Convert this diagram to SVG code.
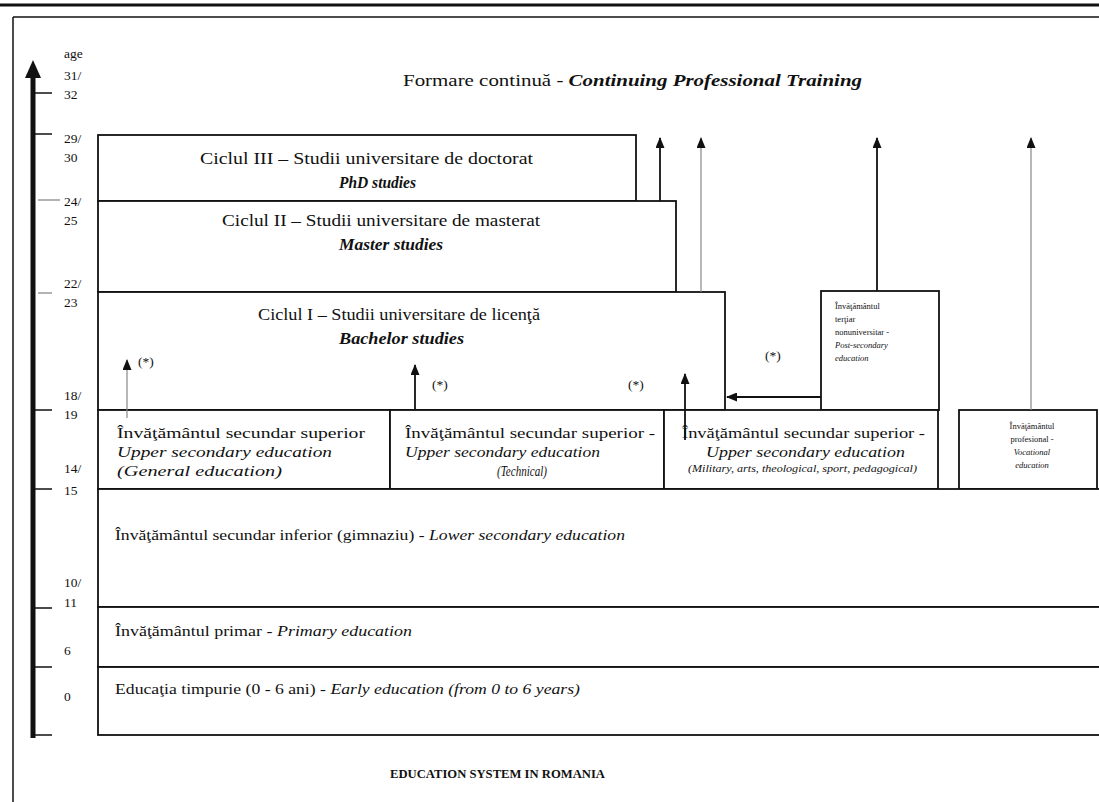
<svg xmlns="http://www.w3.org/2000/svg" width="1099" height="802" viewBox="0 0 1099 802">
<style>
text{font-family:"Liberation Serif","Times New Roman",serif;fill:#111}
.box{fill:#fff;stroke:#111;stroke-width:1.8}
.t15{font-size:16px}
.t13{font-size:14px}
.lab{font-size:13.5px}
.it{font-style:italic}
.bi{font-style:italic;font-weight:bold}
.tiny{font-size:8.5px}
.tick{stroke:#111;stroke-width:1.5}
.gtick{stroke:#999;stroke-width:1.5}
.ar{stroke:#111;stroke-width:1.8;fill:none}
.gar{stroke:#888;stroke-width:1.2;fill:none}
</style>
<defs>
<marker id="ah" markerWidth="11" markerHeight="9" refX="10" refY="4.5" orient="auto" markerUnits="userSpaceOnUse" viewBox="0 0 11 9"><path d="M0,0 L11,4.5 L0,9 Z" fill="#111"/></marker>
<marker id="big" markerWidth="18" markerHeight="16" refX="0" refY="8" orient="auto" markerUnits="userSpaceOnUse" viewBox="0 0 18 16"><path d="M0,0 L18,8 L0,16 Z" fill="#111"/></marker>
</defs>
<rect width="1099" height="802" fill="#fff"/>
<g id="frame">
<line x1="0" y1="5" x2="1099" y2="5" stroke="#111" stroke-width="3"/>
<line x1="13" y1="17" x2="1099" y2="17" stroke="#111" stroke-width="1.5"/>
<line x1="13" y1="17" x2="13" y2="802" stroke="#111" stroke-width="1.5"/>
</g>
<g id="axis">
<line x1="33" y1="738" x2="33" y2="78" stroke="#111" stroke-width="5" marker-end="url(#big)"/>
<line class="tick" x1="33" y1="93" x2="52" y2="93"/>
<line class="tick" x1="33" y1="134" x2="52" y2="134"/>
<line class="gtick" x1="38" y1="200" x2="60" y2="200"/>
<line class="gtick" x1="38" y1="293" x2="52" y2="293"/>
<line class="tick" x1="33" y1="410" x2="52" y2="410"/>
<line class="tick" x1="33" y1="489" x2="52" y2="489"/>
<line class="tick" x1="33" y1="608" x2="52" y2="608"/>
<line class="tick" x1="33" y1="667" x2="52" y2="667"/>
<line class="tick" x1="33" y1="735" x2="52" y2="735"/>
<text class="lab" x="64" y="58">age</text>
<text class="lab" x="64" y="80">31/</text>
<text class="lab" x="64" y="99">32</text>
<text class="lab" x="64" y="143">29/</text>
<text class="lab" x="64" y="162">30</text>
<text class="lab" x="64" y="206">24/</text>
<text class="lab" x="64" y="225">25</text>
<text class="lab" x="64" y="288">22/</text>
<text class="lab" x="64" y="307">23</text>
<text class="lab" x="64" y="400">18/</text>
<text class="lab" x="64" y="419">19</text>
<text class="lab" x="64" y="473">14/</text>
<text class="lab" x="64" y="495">15</text>
<text class="lab" x="64" y="587">10/</text>
<text class="lab" x="64" y="607">11</text>
<text class="lab" x="64" y="655">6</text>
<text class="lab" x="64" y="701">0</text>
</g>
<g id="continuing">
<text class="t15" x="403" y="86" textLength="459" lengthAdjust="spacingAndGlyphs">Formare continuă  - <tspan class="bi">Continuing Professional Training</tspan></text>
</g>
<g id="phd">
<rect class="box" x="98" y="135" width="538" height="66"/>
<text class="t15" x="200" y="164" textLength="333" lengthAdjust="spacingAndGlyphs">Ciclul III – Studii universitare de doctorat</text>
<text class="t15 bi" x="339" y="188" textLength="77" lengthAdjust="spacingAndGlyphs">PhD studies</text>
</g>
<g id="master">
<rect class="box" x="98" y="201" width="578" height="91"/>
<text class="t15" x="222" y="226" textLength="318" lengthAdjust="spacingAndGlyphs">Ciclul II – Studii universitare de masterat</text>
<text class="t15 bi" x="339" y="250" textLength="104" lengthAdjust="spacingAndGlyphs">Master studies</text>
</g>
<g id="bachelor">
<rect class="box" x="98" y="292" width="627" height="118"/>
<text class="t15" x="258" y="320" textLength="282" lengthAdjust="spacingAndGlyphs">Ciclul I – Studii universitare de licenţă</text>
<text class="t15 bi" x="339" y="344" textLength="125" lengthAdjust="spacingAndGlyphs">Bachelor studies</text>
</g>
<g id="postsecondary">
<rect class="box" x="821" y="291" width="118" height="119"/>
<text class="tiny" x="835" y="309">Învăţământul</text>
<text class="tiny" x="835" y="322">terţiar</text>
<text class="tiny" x="835" y="335">nonuniversitar -</text>
<text class="tiny it" x="835" y="348">Post-secondary</text>
<text class="tiny it" x="835" y="361">education</text>
</g>
<g id="upper-general">
<rect class="box" x="98" y="410" width="292" height="79"/>
<text class="t13" x="117" y="438" textLength="248" lengthAdjust="spacingAndGlyphs">Învăţământul secundar superior</text>
<text class="t13 it" x="117" y="457" textLength="215" lengthAdjust="spacingAndGlyphs">Upper secondary education</text>
<text class="t13 it" x="117" y="476" textLength="165" lengthAdjust="spacingAndGlyphs">(General education)</text>
</g>
<g id="upper-technical">
<rect class="box" x="390" y="410" width="274" height="79"/>
<text class="t13" x="405" y="438" textLength="250" lengthAdjust="spacingAndGlyphs">Învăţământul secundar superior -</text>
<text class="t13 it" x="405" y="457" textLength="195" lengthAdjust="spacingAndGlyphs">Upper secondary education</text>
<text class="t13 it" x="497" y="476" textLength="50" lengthAdjust="spacingAndGlyphs">(Technical)</text>
</g>
<g id="upper-military">
<rect class="box" x="664" y="410" width="274" height="79"/>
<text class="t13" x="682" y="438" textLength="243" lengthAdjust="spacingAndGlyphs">Învăţământul secundar superior -</text>
<text class="t13 it" x="706" y="457" textLength="199" lengthAdjust="spacingAndGlyphs">Upper secondary education</text>
<text class="it" x="688" y="472" font-size="9.5px" textLength="229" lengthAdjust="spacingAndGlyphs">(Military, arts, theological, sport, pedagogical)</text>
</g>
<g id="vocational">
<rect class="box" x="959" y="410" width="138" height="79"/>
<text class="tiny" x="1032" y="429" text-anchor="middle">Învăţământul</text>
<text class="tiny" x="1032" y="442" text-anchor="middle">profesional -</text>
<text class="tiny it" x="1032" y="455" text-anchor="middle">Vocational</text>
<text class="tiny it" x="1032" y="468" text-anchor="middle">education</text>
</g>
<g id="lower-secondary">
<rect class="box" x="98" y="489" width="1003" height="118"/>
<text class="t13" x="115" y="540" textLength="510" lengthAdjust="spacingAndGlyphs">Învăţământul secundar inferior (gimnaziu) - <tspan class="it">Lower secondary education</tspan></text>
</g>
<g id="primary">
<rect class="box" x="98" y="607" width="1003" height="60"/>
<text class="t13" x="115" y="636" textLength="297" lengthAdjust="spacingAndGlyphs">Învăţământul primar - <tspan class="it">Primary education</tspan></text>
</g>
<g id="early">
<rect class="box" x="98" y="667" width="1003" height="68"/>
<text class="t13" x="115" y="694" textLength="465" lengthAdjust="spacingAndGlyphs">Educaţia timpurie (0 - 6 ani) - <tspan class="it">Early education (from 0 to 6 years)</tspan></text>
</g>
<g id="connectors">
<line class="ar" x1="660" y1="201" x2="660" y2="138" marker-end="url(#ah)"/>
<line class="gar" x1="701" y1="292" x2="701" y2="138" marker-end="url(#ah)"/>
<line class="ar" x1="877" y1="291" x2="877" y2="138" marker-end="url(#ah)"/>
<line class="gar" x1="1031" y1="410" x2="1031" y2="138" marker-end="url(#ah)"/>
<line class="ar" x1="821" y1="397" x2="727" y2="397" marker-end="url(#ah)"/>
<line class="gar" x1="127" y1="418" x2="127" y2="360" marker-end="url(#ah)"/>
<line class="ar" x1="415" y1="410" x2="415" y2="365" stroke-width="2.5" marker-end="url(#ah)"/>
<line class="ar" x1="685" y1="440" x2="685" y2="374" marker-end="url(#ah)"/>
<text class="lab" x="138" y="366">(*)</text>
<text class="lab" x="432" y="389">(*)</text>
<text class="lab" x="628" y="389">(*)</text>
<text class="lab" x="765" y="360">(*)</text>
</g>
<g id="title">
<text x="390" y="778" font-size="12px" font-weight="bold" textLength="215" lengthAdjust="spacingAndGlyphs">EDUCATION SYSTEM IN ROMANIA</text>
</g>
</svg>
